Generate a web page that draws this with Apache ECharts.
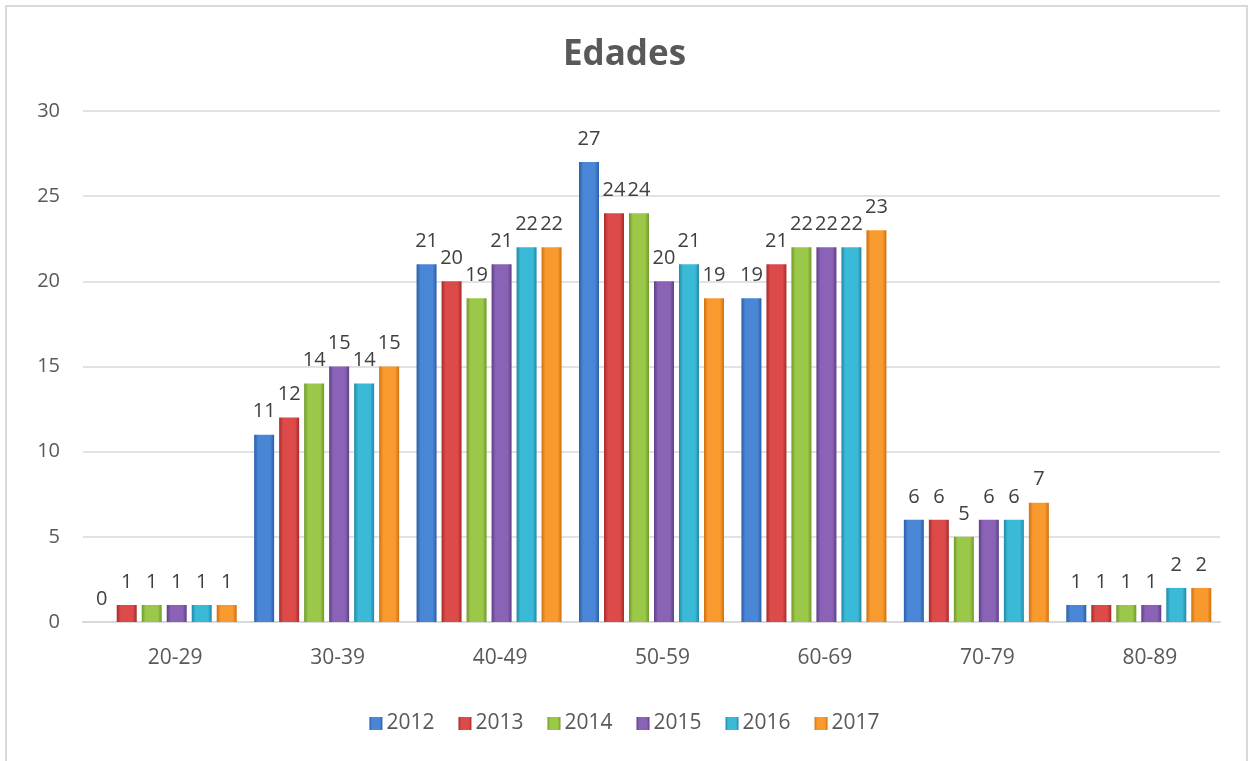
<!DOCTYPE html>
<html>
<head>
<meta charset="utf-8">
<script src="https://cdn.jsdelivr.net/npm/echarts@6/dist/echarts.min.js"></script>
<style>
  html, body { margin: 0; padding: 0; background: #fff; }
  #chart { width: 1249px; height: 761px; }
</style>
</head>
<body>
<div id="chart"></div>
<script>
const categories = ["20-29", "30-39", "40-49", "50-59", "60-69", "70-79", "80-89"];
const years = ["2012", "2013", "2014", "2015", "2016", "2017"];
const v2012 = [0, 11, 21, 27, 19, 6, 1];
const v2013 = [1, 12, 20, 24, 21, 6, 1];
const v2014 = [1, 14, 19, 24, 22, 5, 1];
const v2015 = [1, 15, 21, 20, 22, 6, 1];
const v2016 = [1, 14, 22, 21, 22, 6, 2];
const v2017 = [1, 15, 22, 19, 23, 7, 2];
const yTicks = [0, 5, 10, 15, 20, 25, 30];

const seriesValues = [v2012, v2013, v2014, v2015, v2016, v2017];
// dark edge / light middle, to fake the bevelled bars
const palette = [
  ["#2a5ea8", "#4a86d6"],
  ["#a82a2a", "#dc4a4a"],
  ["#6f9a2a", "#9cc84a"],
  ["#5e3f86", "#8a62b6"],
  ["#1f8aa6", "#3bbad8"],
  ["#d0700e", "#f99a2e"]
];

const grad = (c) => new echarts.graphic.LinearGradient(0, 0, 1, 0, [
  { offset: 0, color: c[0] },
  { offset: 0.2, color: c[1] },
  { offset: 0.8, color: c[1] },
  { offset: 1, color: c[0] }
]);

const myChart = echarts.init(document.getElementById("chart"));

const option = {
  animation: false,
  title: {
    text: "Edades",
    left: "center",
    top: 33,
    textStyle: { fontFamily: "Open Sans", fontSize: 35, fontWeight: "bold", color: "#595959" }
  },
  graphic: [
    {
      type: "rect",
      shape: { x: 6, y: 6, width: 1241, height: 770 },
      style: { fill: "none", stroke: "#d9d9d9", lineWidth: 2 },
      silent: true
    }
  ],
  legend: {
    data: years,
    bottom: 22,
    left: "center",
    itemWidth: 13,
    itemHeight: 13,
    itemGap: 24,
    icon: "rect",
    textStyle: { fontFamily: "Open Sans", fontSize: 21, color: "#595959", padding: [0, 0, 0, -1] }
  },
  grid: { left: 83, right: 29, top: 111, bottom: 139 },
  xAxis: {
    type: "category",
    data: categories,
    axisLine: { lineStyle: { color: "#d9d9d9", width: 2 } },
    axisTick: { show: false },
    axisLabel: {
      fontFamily: "Open Sans",
      fontSize: 21,
      color: "#595959",
      margin: 26,
      padding: [0, 0, 0, 22]
    }
  },
  yAxis: {
    type: "value",
    min: yTicks[0],
    max: yTicks[yTicks.length - 1],
    interval: 5,
    axisLine: { show: false },
    axisTick: { show: false },
    splitLine: { lineStyle: { color: "#d9d9d9", width: 1.5 } },
    axisLabel: { fontFamily: "Open Sans", fontSize: 20, color: "#595959", margin: 23 }
  },
  series: years.map((y, i) => ({
    name: y,
    type: "bar",
    data: seriesValues[i],
    barWidth: 20,
    barGap: "25%",
    itemStyle: { color: grad(palette[i]) },
    label: {
      show: true,
      position: "top",
      distance: 13,
      fontFamily: "Open Sans",
      fontSize: 20,
      color: "#404040"
    }
  }))
};

myChart.setOption(option);
window.onresize = function () {
  myChart.resize();
};
</script>
</body>
</html>
